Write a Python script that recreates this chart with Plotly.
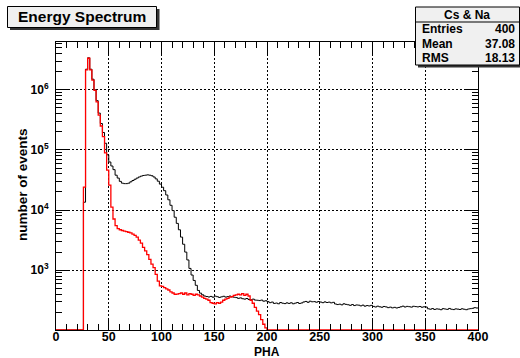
import numpy as np
import plotly.graph_objects as go

# ---------------- data ----------------
pha_min, pha_max, bin_width = 0, 400, 2
first_bin = 13  # index of first listed bin (bin k covers [2k, 2k+2])

black_name = "Cs & Na"
black_counts = [
    13500, 2200000, 3400000, 2200000, 1500000, 1000000, 660000,
    410000, 275000, 195000, 129000, 83000, 63000, 54000, 47000, 38000, 34000,
    30000, 28000, 27500, 27500, 28000, 29500, 31000, 32500, 34000, 35500,
    36700, 37600, 38000, 38500, 38000, 37200, 35500, 33000, 30200, 27000,
    24000, 21000, 17800, 14800, 12000, 9800, 7600, 6000, 4700, 3550,
    2700, 2000, 1480, 1070, 830, 675, 560, 460, 415, 390, 372, 365,
    358, 366, 355, 370, 362, 352, 360, 368, 357, 363, 371, 360, 355,
    350, 340, 346, 335, 330, 338, 325, 322, 330, 318, 316,
    312, 318, 305, 310,
    300, 288, 295, 280, 284, 276, 290, 282, 278, 286,
    280, 287, 276, 283, 290, 279, 285,
    296, 302, 292, 305, 298, 300, 293, 301,
    295, 288, 297, 290, 294, 286, 292,
    274, 268, 272, 265, 276, 270,
    266, 260, 268, 258, 264, 262,
    255, 262, 252, 258, 254, 260,
    250, 244, 252, 246, 242, 249, 245,
    238, 243, 236, 241, 235, 240,
    246, 252, 244, 250, 247, 243, 251, 248, 245, 249, 242, 246, 244,
    228, 224, 230, 222, 227, 225, 220, 229, 226, 223, 231, 224, 221, 227,
    225, 222, 228, 224, 220, 226, 229,
    232, 238, 235,
]

red_name = "Cs"
red_counts = [
    24000, 2150000, 3350000, 2150000, 1450000, 980000, 630000,
    380000, 250000, 166000, 89000, 46000, 26000, 11200, 7100, 5500, 4900,
    4700, 4570, 4470, 4370, 4270, 4170, 3980, 3800, 3550, 3160,
    2820, 2400, 2090, 1820, 1510, 1260, 1100, 850, 660, 550,
    537, 513, 490, 468, 436, 417, 398, 400, 407, 417,
    398, 417, 389, 407, 398, 380, 398, 389,
    372, 355, 339, 331, 316,
    288, 282, 275, 288, 282,
    295, 316, 331,
    339, 355, 363, 380, 389,
    398, 389, 407, 380, 398, 372,
    316, 282, 240, 209, 182, 151, 126, 110,
]

title_text = "Energy Spectrum"
stats_title = "Cs & Na"
stats_labels = ["Entries", "Mean", "RMS"]
stats_values = ["400", "37.08", "18.13"]

x_title = "PHA"
y_title = "number of events"
x_tickvals = [0, 50, 100, 150, 200, 250, 300, 350, 400]
y_decades = [3, 4, 5, 6]

# ---------------- geometry ----------------
W, H = 520, 358
L, R, T, B = 56, 478, 42, 330
y_range = [2.005, 6.795]

def fx(px):
    return (px - L) / (R - L)

def fy(py):
    return (B - py) / (B - T)

nbins = int((pha_max - pha_min) / bin_width)
edges = pha_min + bin_width * np.arange(nbins + 1)
floor = 10 ** y_range[0]

def full_series(vals):
    c = np.zeros(nbins)
    c[first_bin:first_bin + len(vals)] = vals
    c = np.where(c > 0, c, floor)
    return np.append(c, c[-1])

xs = edges

font_family = "Liberation Sans, Arial, Helvetica, sans-serif"

fig = go.Figure()
fig.add_trace(go.Scatter(x=xs, y=full_series(black_counts), mode="lines",
                         line=dict(color="black", width=1, shape="hv"),
                         name=black_name, hoverinfo="skip"))
fig.add_trace(go.Scatter(x=xs, y=full_series(red_counts), mode="lines",
                         line=dict(color="#ff0000", width=1.3, shape="hv"),
                         name=red_name, hoverinfo="skip"))

minor_y = [k * 10 ** d for d in range(2, 7) for k in range(2, 10)
           if y_range[0] <= np.log10(k * 10 ** d) <= y_range[1]]

fig.update_layout(
    width=W, height=H,
    margin=dict(l=L, r=W - R, t=T, b=H - B, pad=0),
    paper_bgcolor="white", plot_bgcolor="white",
    showlegend=False,
    font=dict(family=font_family, color="black", size=12, weight="bold"),
)

fig.update_xaxes(
    range=[pha_min, pha_max],
    showline=True, linecolor="black", linewidth=1, mirror="ticks",
    ticks="inside", ticklen=12, tickwidth=1, tickcolor="black",
    tickvals=x_tickvals, ticktext=[str(v) for v in x_tickvals],
    tickfont=dict(size=12.5, family=font_family, weight="bold"),
    ticklabelstandoff=-5,
    minor=dict(ticks="inside", ticklen=6, dtick=10, tickcolor="black", showgrid=False),
    showgrid=True, gridcolor="black", gridwidth=1, griddash="2px,2px",
    zeroline=False,
)
fig.update_yaxes(
    type="log", range=y_range,
    showline=True, linecolor="black", linewidth=1, mirror="ticks",
    ticks="inside", ticklen=12, tickwidth=1, tickcolor="black",
    tickvals=[10 ** d for d in y_decades],
    ticktext=[f"10<sup>{d}</sup>" for d in y_decades],
    tickfont=dict(size=12, family=font_family, weight="bold"),
    ticklabelstandoff=4,
    minor=dict(ticks="inside", ticklen=6, tickmode="array", tickvals=minor_y,
               tickcolor="black", showgrid=False),
    showgrid=True, gridcolor="black", gridwidth=1, griddash="2px,2px",
    zeroline=False,
)

shapes = []
# title box with shadow
shapes.append(dict(type="rect", xref="paper", yref="paper",
                   x0=fx(10), x1=fx(159.5), y0=fy(30), y1=fy(9),
                   fillcolor="#333333", line=dict(width=0), layer="above"))
shapes.append(dict(type="rect", xref="paper", yref="paper",
                   x0=fx(7.5), x1=fx(156.5), y0=fy(27.5), y1=fy(6.5),
                   fillcolor="#f0f0f0", line=dict(color="black", width=1), layer="above"))
# stats box with shadow
shapes.append(dict(type="rect", xref="paper", yref="paper",
                   x0=fx(418), x1=fx(522), y0=fy(67.5), y1=fy(9),
                   fillcolor="#333333", line=dict(width=0), layer="above"))
shapes.append(dict(type="rect", xref="paper", yref="paper",
                   x0=fx(415.5), x1=fx(519.5), y0=fy(65), y1=fy(7),
                   fillcolor="#f0f0f0", line=dict(color="black", width=1), layer="above"))
shapes.append(dict(type="line", xref="paper", yref="paper",
                   x0=fx(415.5), x1=fx(519.5), y0=fy(22), y1=fy(22),
                   line=dict(color="black", width=1), layer="above"))
fig.update_layout(shapes=shapes)

ann = []
ann.append(dict(text=title_text, xref="paper", yref="paper",
                x=fx(82), y=fy(17), xanchor="center", yanchor="middle",
                showarrow=False, font=dict(size=15.5, family=font_family, weight="bold")))
ann.append(dict(text=stats_title, xref="paper", yref="paper",
                x=fx(467), y=fy(15), xanchor="center", yanchor="middle",
                showarrow=False, font=dict(size=12, family=font_family, weight="bold")))
rows_y = [29.3, 44, 58.3]
for lab, val, ry in zip(stats_labels, stats_values, rows_y):
    ann.append(dict(text=lab, xref="paper", yref="paper",
                    x=fx(420), y=fy(ry), xanchor="left", yanchor="middle",
                    showarrow=False, font=dict(size=12, family=font_family, weight="bold")))
    ann.append(dict(text=val, xref="paper", yref="paper",
                    x=fx(517), y=fy(ry), xanchor="right", yanchor="middle",
                    showarrow=False, font=dict(size=12, family=font_family, weight="bold")))
ann.append(dict(text=x_title, xref="paper", yref="paper",
                x=fx(267), y=fy(351.5), xanchor="center", yanchor="middle", borderpad=0,
                showarrow=False, font=dict(size=12, family=font_family, weight="bold")))
ann.append(dict(text=y_title, xref="paper", yref="paper",
                x=fx(22), y=fy(185), xanchor="center", yanchor="middle", textangle=-90,
                showarrow=False, font=dict(size=13.5, family=font_family, weight="bold")))
fig.update_layout(annotations=ann)

fig.write_html("out.html")
